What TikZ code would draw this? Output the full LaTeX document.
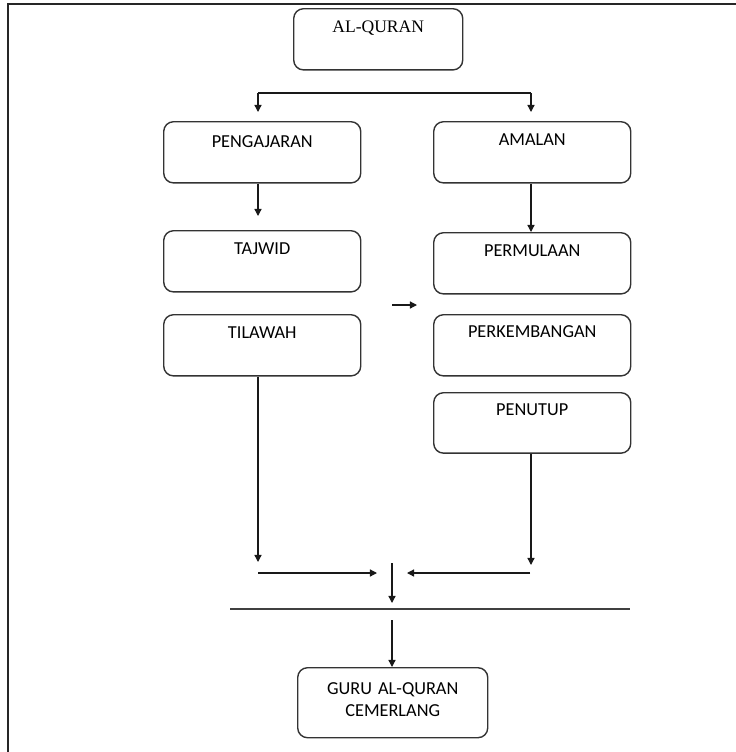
\documentclass[tikz,border=0pt]{standalone}
\usepackage{fontspec}
\setmainfont{Carlito}
\newfontfamily\serifx{Liberation Serif}
\usetikzlibrary{arrows.meta}
\tikzset{
  box/.style={draw=black!80, line width=1pt, rounded corners=7pt, anchor=north west,
    inner sep=3pt, align=center, font=\fontsize{13}{15}\selectfont,
    text height=15pt, text depth=22pt, minimum height=1.53cm},
  lbox/.style={box, minimum width=4.925cm, text width=4.6cm},
  conn/.style={line width=0.9pt, draw=black!90},
  arr/.style={conn, -{Triangle[length=5pt,width=5pt]}},
}
\begin{document}
\begin{tikzpicture}[x=0.025cm, y=-0.025cm]
\useasboundingbox (0,0) rectangle (736,752);
% frame
\draw[line width=1.3pt, black!85] (8,752) -- (8,4) -- (736,4);
% boxes
\node[box, minimum width=4.225cm, text width=4cm, font=\serifx\fontsize{12.5}{14}\selectfont, text height=14pt, text depth=23pt] (alq) at (293,8) {AL-QURAN};
\node[lbox] (peng) at (163,121) {PENGAJARAN};
\node[lbox, text height=14pt, text depth=23pt] (amal) at (433,121) {AMALAN};
\node[lbox, text height=14pt, text depth=23pt] (tajw) at (163,230) {TAJWID};
\node[lbox, text height=14pt, text depth=23pt] (tila) at (163,314) {TILAWAH};
\node[lbox, text height=14pt, text depth=23pt] (perm) at (433,232) {PERMULAAN};
\node[lbox, text height=13pt, text depth=24pt] (perk) at (433,314) {PERKEMBANGAN};
\node[lbox, text height=13pt, text depth=24pt, minimum height=1.5cm] (penu) at (433,392) {PENUTUP};
\node[box, minimum width=4.75cm, text width=4.5cm, text height=16pt, text depth=27pt, minimum height=1.75cm, align=center, font=\fontsize{13}{15.6}\selectfont] (guru) at (297,667) {GURU AL-QURAN\\CEMERLANG};
% coordinates
\coordinate (bl) at (258,93);
\coordinate (br) at (531,93);
\coordinate (blt) at (258,112);
\coordinate (brt) at (531,112);
\coordinate (tjt) at (258,216);
\coordinate (sa1) at (392,305);
\coordinate (sa2) at (417,305);
\coordinate (tl1) at (258,562);
\coordinate (pn1) at (531,565);
\coordinate (h1a) at (258,573);
\coordinate (h1b) at (377,573);
\coordinate (h2a) at (530,573);
\coordinate (h2b) at (407,573);
\coordinate (v1a) at (392,563);
\coordinate (v1b) at (392,603);
\coordinate (la) at (230,609);
\coordinate (lb) at (630,609);
\coordinate (v2a) at (392,620);
% connectors
\draw[conn] (bl) -- (br);
\draw[arr] (bl) -- (blt);
\draw[arr] (br) -- (brt);
\draw[arr] (peng.south -| tjt) -- (tjt);
\draw[arr] (amal.south -| brt) -- (perm.north -| brt);
\draw[arr] (sa1) -- (sa2);
\draw[arr] (tila.south -| tl1) -- (tl1);
\draw[arr] (penu.south -| pn1) -- (pn1);
\draw[arr] (h1a) -- (h1b);
\draw[arr] (h2a) -- (h2b);
\draw[arr] (v1a) -- (v1b);
\draw[conn, line width=1.1pt, black!75] (la) -- (lb);
\draw[arr] (v2a) -- (guru.north -| v2a);
\end{tikzpicture}
\end{document}
